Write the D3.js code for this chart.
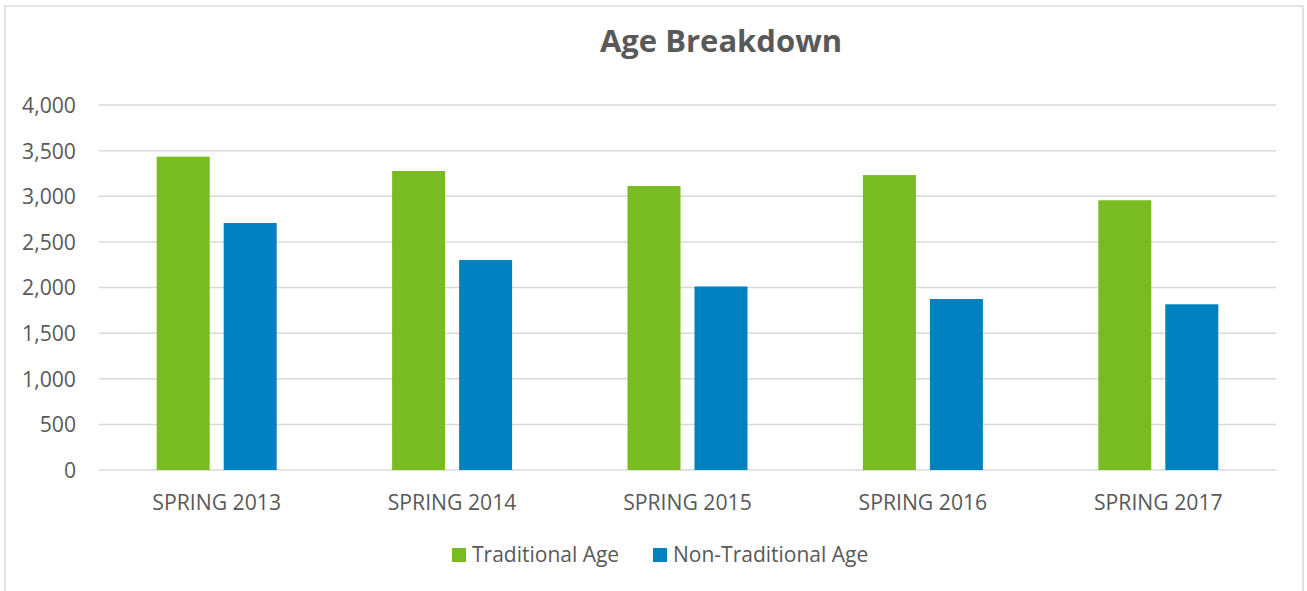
<!DOCTYPE html>
<html>
<head>
<meta charset="utf-8">
<script src="https://cdn.jsdelivr.net/npm/d3@7"></script>
<style>
  html, body { margin: 0; padding: 0; background: #fff; }
  svg { display: block; }
  text { font-family: "Open Sans", "DejaVu Sans", sans-serif; fill: #595959; }
</style>
</head>
<body>
<svg id="chart" width="1307" height="591"></svg>
<script>
const categories = ["SPRING 2013", "SPRING 2014", "SPRING 2015", "SPRING 2016", "SPRING 2017"];
const seriesNames = ["Traditional Age", "Non-Traditional Age"];
const traditional = [3434, 3277, 3112, 3232, 2956];
const nonTraditional = [2707, 2301, 2011, 1874, 1816];
const yTicks = [0, 500, 1000, 1500, 2000, 2500, 3000, 3500, 4000];
const colors = ["#78bc22", "#0082c1"];
const title = "Age Breakdown";

const svg = d3.select("#chart");

// chart border
svg.append("rect")
  .attr("x", 5).attr("y", 6).attr("width", 1298).attr("height", 600)
  .attr("fill", "#fff").attr("stroke", "#d9d9d9").attr("stroke-width", 1.5);

const plot = { left: 99, right: 1276, top: 105, bottom: 470 };
const groupW = 120;

const x0 = d3.scaleBand().domain(categories).range([plot.left, plot.right]).paddingInner(0).paddingOuter(0);
const x1 = d3.scaleBand().domain(seriesNames).range([0, groupW]).paddingInner(14 / 67).paddingOuter(0);
const y = d3.scaleLinear().domain([0, 4000]).range([plot.bottom, plot.top]);

// gridlines
svg.append("g").selectAll("line").data(yTicks).join("line")
  .attr("x1", plot.left).attr("x2", plot.right)
  .attr("y1", d => y(d)).attr("y2", d => y(d))
  .attr("stroke", "#d9d9d9").attr("stroke-width", 1.5);

// y axis labels
const yAxis = d3.axisLeft(y).tickValues(yTicks).tickFormat(d3.format(",")).tickSize(0).tickPadding(0);
const gy = svg.append("g").attr("transform", `translate(76,0)`).call(yAxis);
gy.select(".domain").remove();
gy.selectAll("text").attr("font-family", "'Open Sans', sans-serif").attr("font-size", 21.2).attr("fill", "#595959").attr("dy", "0.35em");

// bars
const data = categories.map((c, i) => ({ cat: c, values: [traditional[i], nonTraditional[i]] }));
const groups = svg.append("g").selectAll("g").data(data).join("g")
  .attr("transform", d => `translate(${x0(d.cat) + (x0.bandwidth() - groupW) / 2},0)`);
groups.selectAll("rect").data(d => d.values.map((v, j) => ({ s: seriesNames[j], v, j }))).join("rect")
  .attr("x", d => x1(d.s))
  .attr("width", x1.bandwidth())
  .attr("y", d => y(d.v))
  .attr("height", d => y(0) - y(d.v))
  .attr("fill", d => colors[d.j]);

// x axis labels
const xAxis = d3.axisBottom(x0).tickSize(0).tickPadding(0);
const gx = svg.append("g").attr("transform", `translate(0,${plot.bottom})`).call(xAxis);
gx.select(".domain").remove();
gx.selectAll("text").attr("font-family", "'Open Sans', sans-serif").attr("font-size", 21.2).attr("fill", "#595959").attr("dy", null).attr("y", 40);

// title
svg.append("text").attr("x", 721).attr("y", 52).attr("text-anchor", "middle")
  .attr("font-size", 31).attr("font-weight", "bold").text(title);

// legend
const legendItems = [
  { name: seriesNames[0], color: colors[0], x: 452 },
  { name: seriesNames[1], color: colors[1], x: 653 }
];
const lg = svg.append("g").selectAll("g").data(legendItems).join("g")
  .attr("transform", d => `translate(${d.x},548)`);
lg.append("rect").attr("width", 14).attr("height", 14).attr("fill", d => d.color);
lg.append("text").attr("x", 20).attr("y", 14).attr("font-size", 21).text(d => d.name);
</script>
</body>
</html>
